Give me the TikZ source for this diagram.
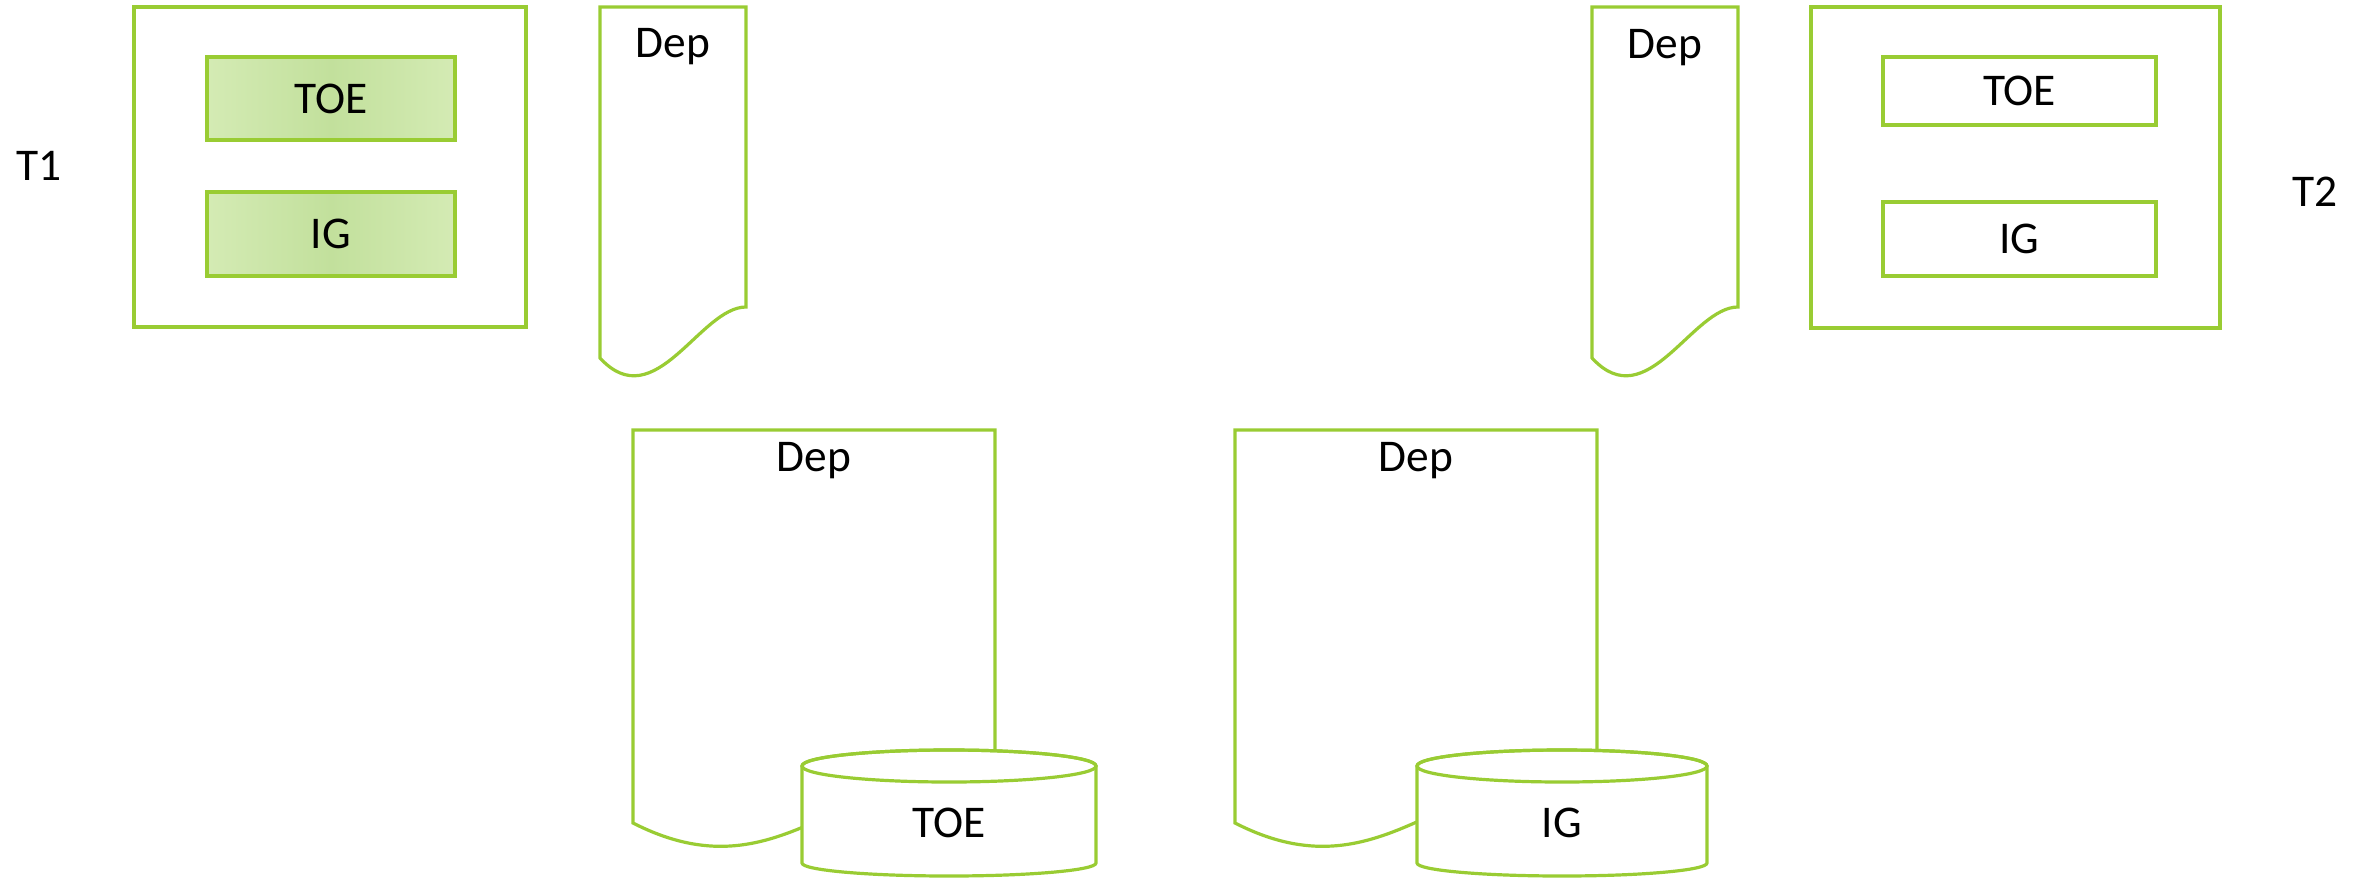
\documentclass[tikz,border=0pt]{standalone}
\usepackage{fontspec}
\setmainfont{Carlito}
\definecolor{leaf}{RGB}{153,204,51}
\definecolor{mintedge}{RGB}{212,235,180}
\definecolor{mintcore}{RGB}{194,224,156}
\begin{document}
\begin{tikzpicture}[x=0.5pt,y=-0.5pt,
  outline/.style={draw=leaf, line width=1.6pt},
  frame/.style={outline, rectangle, inner sep=0pt},
  plainbox/.style={frame, fill=white, font=\fontsize{22.7}{27}\selectfont},
  shadedbox/.style={frame, left color=mintedge, right color=mintedge,
                    middle color=mintcore, font=\fontsize{22.7}{27}\selectfont},
  docshape/.style={outline, fill=white},
  txt/.style={font=\fontsize{22.7}{27}\selectfont, inner sep=0pt, anchor=base}]

\useasboundingbox (0,0) rectangle (2369,878);

% ---- left group: T1 ----
\node[txt] (t1) at (39,180) {T1};
\node[frame, minimum width=196pt, minimum height=160pt] (t1frame) at (330,167) {};
\node[shadedbox, minimum width=124pt, minimum height=41.5pt] (t1toe) at (331,98.5) {TOE};
\node[shadedbox, minimum width=124pt, minimum height=42pt] (t1ig) at (331,234) {IG};

% document sheet next to T1
\draw[docshape] (600,7) -- (746,7) -- (746,307)
  .. controls (700,307) and (655,418) .. (600,358) -- cycle;
\node[txt] (depa) at (673,57) {Dep};

% ---- right group: T2 ----
\draw[docshape] (1592,7) -- (1738,7) -- (1738,307)
  .. controls (1692,307) and (1647,418) .. (1592,358) -- cycle;
\node[txt] (depb) at (1665,58) {Dep};

\node[frame, minimum width=204.5pt, minimum height=160.5pt] (t2frame) at (2015.5,167.5) {};
\node[plainbox, minimum width=136.5pt, minimum height=34pt] (t2toe) at (2019.5,91) {TOE};
\node[plainbox, minimum width=136.5pt, minimum height=37pt] (t2ig) at (2019.5,239) {IG};
\node[txt] (t2) at (2315,206) {T2};

% ---- bottom left: document with TOE store ----
\draw[docshape] (633,430) -- (995,430) -- (995,768)
  .. controls (840,768) and (780,898) .. (633,823) -- cycle;
\node[txt] (depc) at (814,471.5) {Dep};
\filldraw[outline, fill=white] (802,766) -- (802,863)
  arc[start angle=180, end angle=0, x radius=147, y radius=13]
  -- (1096,766)
  arc[start angle=0, end angle=-180, x radius=147, y radius=16] -- cycle;
\draw[outline] (949,766) ellipse[x radius=147, y radius=16];
\node[txt] (storetoe) at (949,837) {TOE};

% ---- bottom right: document with IG store ----
\draw[docshape] (1235,430) -- (1597,430) -- (1597,768)
  .. controls (1442,768) and (1382,898) .. (1235,823) -- cycle;
\node[txt] (depd) at (1416,471.5) {Dep};
\filldraw[outline, fill=white] (1417,766) -- (1417,863)
  arc[start angle=180, end angle=0, x radius=145, y radius=13]
  -- (1707,766)
  arc[start angle=0, end angle=-180, x radius=145, y radius=16] -- cycle;
\draw[outline] (1562,766) ellipse[x radius=145, y radius=16];
\node[txt] (storeig) at (1562,837) {IG};

\end{tikzpicture}
\end{document}
